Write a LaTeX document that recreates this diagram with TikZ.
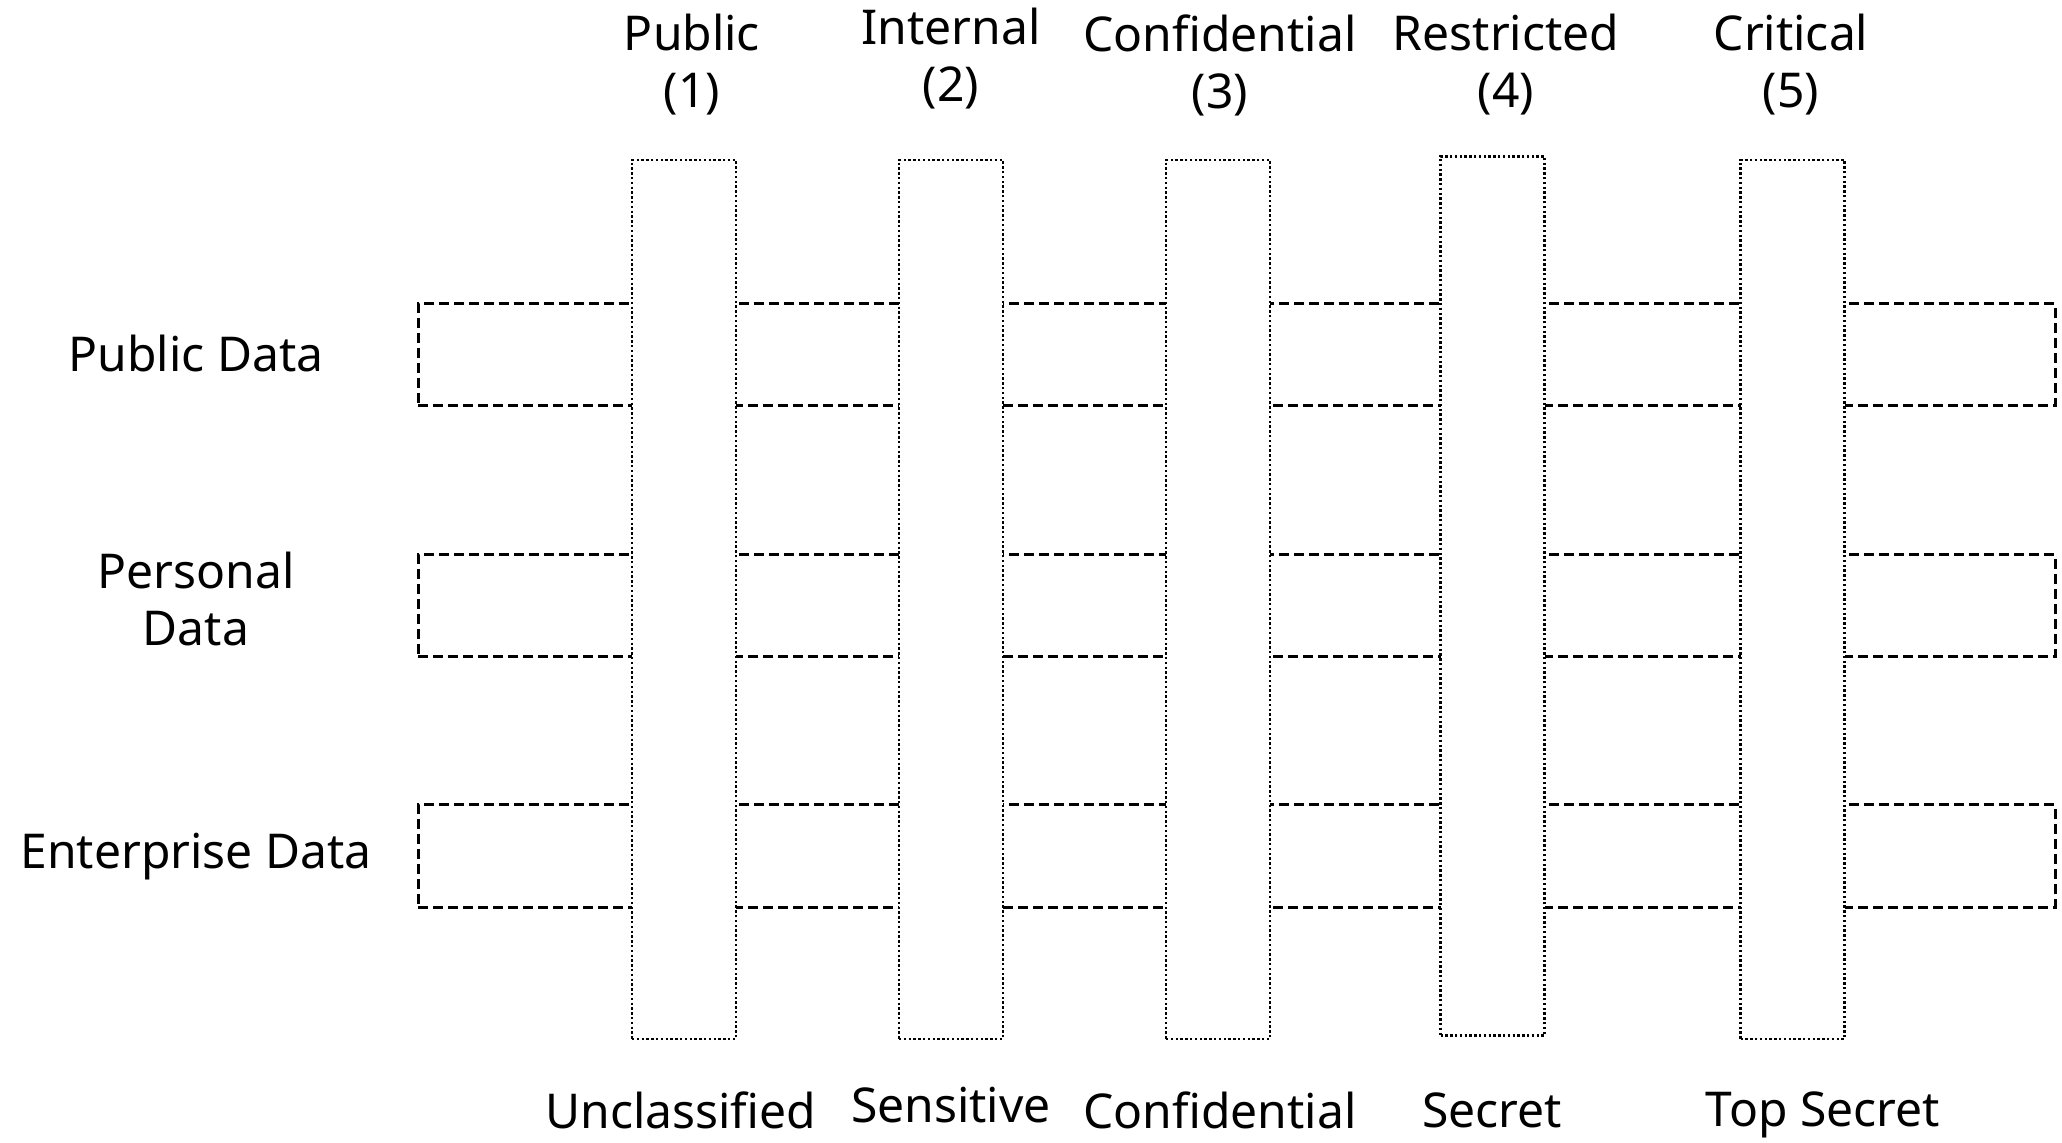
\documentclass[tikz,border=0pt]{standalone}
\usepackage{fontspec}
\setmainfont{Noto Sans}
\usetikzlibrary{positioning}

\begin{document}
\begin{tikzpicture}[
  x=0.5pt,y=-0.5pt,
  label/.style={font=\fontsize{24}{28.5}\selectfont,align=center,inner sep=0pt},
  level/.style={draw,fill=white,line width=1.3pt,dash pattern=on 1.2pt off 1.2pt,minimum width=52pt,minimum height=439.5pt,inner sep=0pt},
  category/.style={draw,line width=1.5pt,dash pattern=on 5pt off 2.5pt,minimum width=818.5pt,minimum height=51pt,inner sep=0pt}
]
\useasboundingbox (0,0) rectangle (2062,1143);
% data categories
\node[category] (public) at (1236.5,355) {};
\node[category] (personal) at (1236.5,606) {};
\node[category] (enterprise) at (1236.5,856) {};
\node[label] (publicL) at (196,354) {Public Data};
\node[label] (personalL) at (196,599) {Personal\\Data};
\node[label] (enterpriseL) at (196,857) {Enterprise Data};
% classification levels
\node[level] (l1) at (684,599.5) {};
\node[level] (l2) at (951,599.5) {};
\node[level] (l3) at (1218,599.5) {};
\node[level] (l4) at (1492.5,596) {};
\node[level] (l5) at (1792.5,599.5) {};
% top labels
\node[label] (t1) at (692,65) {Public\\(1)};
\node[label] (t2) at (951,59) {Internal\\(2)};
\node[label] (t3) at (1220,65) {Confidential\\(3)};
\node[label] (t4) at (1506,65) {Restricted\\(4)};
\node[label] (t5) at (1791,65) {Critical\\(5)};
% bottom labels
\node[label] (b1) at (681,1110) {Unclassified};
\node[label] (b2) at (951,1105) {Sensitive};
\node[label] (b3) at (1220,1110) {Confidential};
\node[label] (b4) at (1492,1110) {Secret};
\node[label] (b5) at (1823,1115) {Top Secret};
\end{tikzpicture}
\end{document}
